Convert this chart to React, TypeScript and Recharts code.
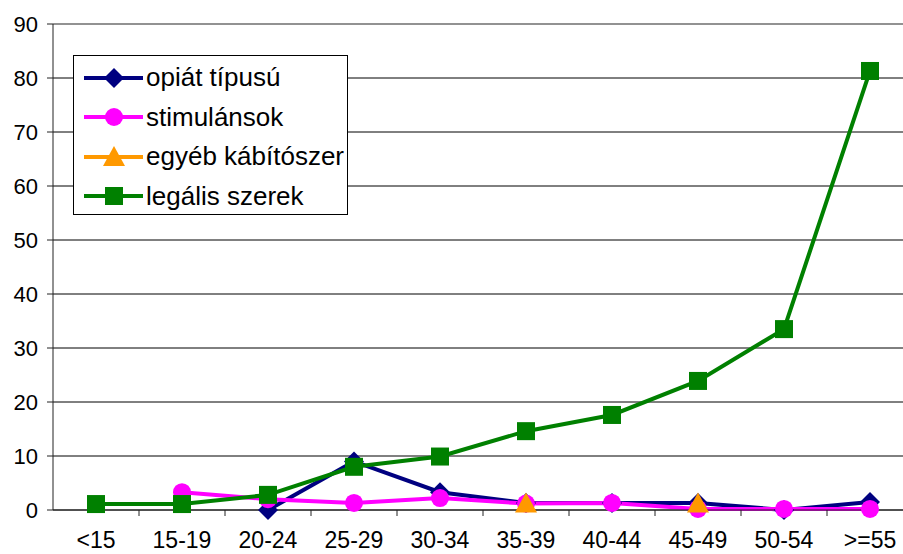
import React from "react";
import {
  LineChart,
  Line,
  XAxis,
  YAxis,
  CartesianGrid,
  ReferenceLine,
} from "recharts";

// age groups
const categories = ["<15", "15-19", "20-24", "25-29", "30-34", "35-39", "40-44", "45-49", "50-54", ">=55"];

const opiat = [null, null, 0, 9, 3.3, 1.3, 1.3, 1.3, 0, 1.5];
const stimulans = [null, 3.3, 2, 1.3, 2.2, 1.2, 1.3, 0.2, 0.2, 0.2];
const egyeb = [null, null, null, null, null, 1.2, null, 1.2, null, null];
const legalis = [1.1, 1.1, 2.8, 8, 9.9, 14.6, 17.6, 23.9, 33.5, 81.3];

const yTicks = [0, 10, 20, 30, 40, 50, 60, 70, 80, 90];

const data = categories.map((name, i) => ({
  name,
  opiat: opiat[i],
  stimulans: stimulans[i],
  egyeb: egyeb[i],
  legalis: legalis[i],
}));

const FONT = '"Liberation Sans", Arial, sans-serif';
const HALF_BAND = 43;
const TICK_GAP = 16;

type Shape = "diamond" | "circle" | "triangle" | "square";

const series: { key: string; name: string; color: string; shape: Shape }[] = [
  { key: "opiat", name: "opiát típusú", color: "#000080", shape: "diamond" },
  { key: "stimulans", name: "stimulánsok", color: "#FF00FF", shape: "circle" },
  { key: "egyeb", name: "egyéb kábítószer", color: "#FF9900", shape: "triangle" },
  { key: "legalis", name: "legális szerek", color: "#008000", shape: "square" },
];

function Marker({ shape, cx, cy, color }: { shape: Shape; cx: number; cy: number; color: string }) {
  if (shape === "diamond") {
    return <polygon points={`${cx},${cy - 10} ${cx + 10},${cy} ${cx},${cy + 10} ${cx - 10},${cy}`} fill={color} />;
  }
  if (shape === "circle") {
    return <circle cx={cx} cy={cy} r={9} fill={color} />;
  }
  if (shape === "triangle") {
    return <polygon points={`${cx},${cy - 11} ${cx + 11},${cy + 9} ${cx - 11},${cy + 9}`} fill={color} />;
  }
  return <rect x={cx - 9} y={cy - 9} width={18} height={18} fill={color} />;
}

const makeDot = (shape: Shape, color: string) => (props: any) => {
  const { cx, cy, index, value } = props;
  if (cx == null || cy == null || value == null) return <g key={`d-${index}`} />;
  return <Marker key={`d-${index}`} shape={shape} cx={cx} cy={cy} color={color} />;
};

const XTick = (props: any) => {
  const { x, y, payload, index, visibleTicksCount } = props;
  const axisY = y - TICK_GAP - 6;
  const isLast = index === visibleTicksCount - 1;
  return (
    <g>
      {index > 0 && (
        <line x1={x - HALF_BAND} y1={axisY} x2={x - HALF_BAND} y2={axisY + 6} stroke="#222" />
      )}
      {isLast && (
        <line x1={x + HALF_BAND} y1={axisY} x2={x + HALF_BAND} y2={axisY + 6} stroke="#222" />
      )}
      <text x={x} y={y} dy="0.71em" textAnchor="middle" fill="#000" fontSize={23} fontFamily={FONT}>
        {payload.value}
      </text>
    </g>
  );
};

const LegendBox = () => (
  <div
    style={{
      position: "absolute",
      left: 73,
      top: 55,
      border: "1px solid #000",
      background: "#fff",
      width: 273,
      height: 156,
      paddingTop: 2,
    }}
  >
    {series.map((s) => (
      <div key={s.key} style={{ display: "flex", alignItems: "center", height: 39.5 }}>
        <svg width={72} height={30} style={{ marginLeft: 6 }}>
          <line x1={4} y1={15} x2={63} y2={15} stroke={s.color} strokeWidth={4} />
          <Marker shape={s.shape} cx={34} cy={15} color={s.color} />
        </svg>
        <span style={{ fontFamily: FONT, fontSize: 26, color: "#000", marginLeft: -6 }}>{s.name}</span>
      </div>
    ))}
  </div>
);

export default function App() {
  return (
    <div style={{ position: "fixed", left: 0, top: 0, width: 903, height: 554, overflow: "hidden", background: "#fff" }}>
      <LineChart width={920} height={554} data={data} margin={{ top: 24, right: 7, bottom: 0, left: 0 }}>
        <CartesianGrid vertical={false} stroke="#000" strokeWidth={1} />
        <ReferenceLine y={90} stroke="#999" strokeWidth={1.5} />
        <XAxis
          dataKey="name"
          padding={{ left: HALF_BAND, right: HALF_BAND }}
          height={44}
          tickLine={false}
          tickSize={6}
          tickMargin={TICK_GAP}
          axisLine={{ stroke: "#222" }}
          tick={<XTick />}
          interval={0}
        />
        <YAxis
          width={53}
          domain={[0, 90]}
          ticks={yTicks}
          interval={0}
          tickSize={6}
          tickMargin={9}
          axisLine={{ stroke: "#222" }}
          tickLine={{ stroke: "#222" }}
          tick={{ fill: "#000", fontSize: 22, fontFamily: FONT }}
        />
        {series.map((s) => (
          <Line
            key={s.key}
            dataKey={s.key}
            name={s.name}
            stroke={s.color}
            strokeWidth={4}
            dot={makeDot(s.shape, s.color)}
            activeDot={false}
            isAnimationActive={false}
          />
        ))}
      </LineChart>
      <LegendBox />
    </div>
  );
}
